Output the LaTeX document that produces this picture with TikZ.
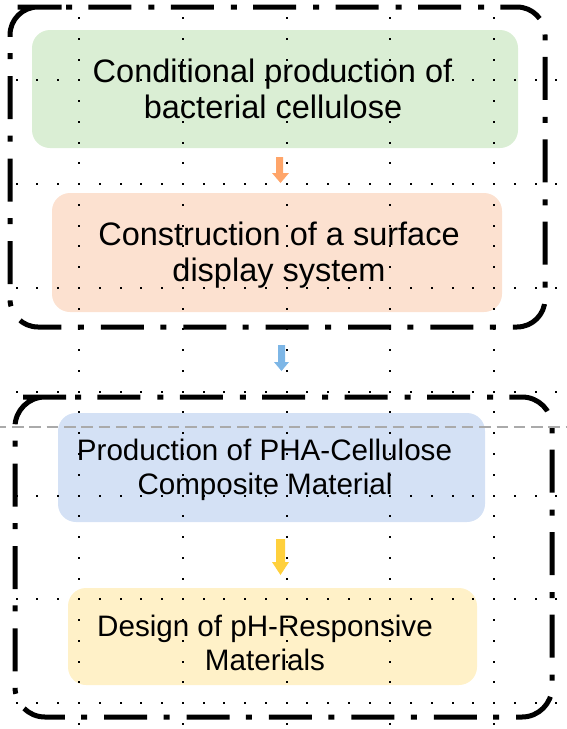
\documentclass[tikz,border=0pt]{standalone}
\usepackage{fontspec}
\setmainfont{Liberation Sans}
\definecolor{gfill}{RGB}{218,238,212}
\definecolor{ofill}{RGB}{252,225,208}
\definecolor{bfill}{RGB}{212,225,245}
\definecolor{yfill}{RGB}{255,241,200}
\definecolor{oarrow}{RGB}{255,165,105}
\definecolor{barrow}{RGB}{125,182,230}
\definecolor{yarrow}{RGB}{255,208,60}
\definecolor{gline}{RGB}{170,170,170}
\begin{document}
\begin{tikzpicture}[x=1pt,y=-1pt,
  box/.style={rounded corners=18pt, draw=none, inner sep=0pt},
  bigtxt/.style={font=\fontsize{32.5}{36}\selectfont, anchor=base, inner sep=0pt},
  smalltxt/.style={font=\fontsize{29.6}{34}\selectfont, anchor=base, inner sep=0pt},
  frame/.style={line width=5pt, rounded corners=28pt, dash pattern=on 6pt off 16.4pt on 43pt off 17pt},
  blockarrow/.style={draw=none},
  griddot/.style={fill=black}
]
\useasboundingbox (0,0) rectangle (567,729);
% coloured boxes
\node[box, fill=gfill, minimum width=486pt, minimum height=118pt] (g) at (275,89) {};
\node[box, fill=ofill, minimum width=450pt, minimum height=119pt] (o) at (277,252.5) {};
\node[box, fill=bfill, minimum width=427pt, minimum height=109pt] (b) at (271.5,467.5) {};
\node[box, fill=yfill, minimum width=409pt, minimum height=97pt] (y) at (272.5,636.5) {};
% texts
\node[bigtxt] (t1a) at (272.5,82) {Conditional production of};
\node[bigtxt] (t1b) at (273,118) {bacterial cellulose};
\node[bigtxt] (t2a) at (279,245) {Construction of a surface};
\node[bigtxt] (t2b) at (279,281) {display system};
\node[smalltxt] (t3a) at (264.5,460) {Production of PHA-Cellulose};
\node[smalltxt] (t3b) at (265,494) {Composite Material};
\node[smalltxt] (t4a) at (265,636) {Design of pH-Responsive};
\node[smalltxt] (t4b) at (265,670) {Materials};
% block arrows
\fill[oarrow, blockarrow] (276,157) -- (283,157) -- (283,173) -- (289,173) -- (280.5,183) -- (272,173) -- (276,173) -- cycle;
\fill[barrow, blockarrow] (278,345) -- (285,345) -- (285,362) -- (289,362) -- (281.5,371) -- (274,362) -- (278,362) -- cycle;
\fill[yarrow, blockarrow] (276,539) -- (285,539) -- (285,562) -- (289,562) -- (280.5,575) -- (272,562) -- (276,562) -- cycle;
% big dash-dot frames
\draw[frame] (38,7) -- (545,7) -- (545,327) -- (10,327) -- (10,7) -- cycle;
\draw[frame, rounded corners=30pt] (45,397) -- (552,397) -- (552,717) -- (15,717) -- (15,397) -- cycle;
% grey dashed line
\draw[gline, line width=2pt, dash pattern=on 11.5pt off 5.8pt, dash phase=5.2pt] (0,427) -- (567,427);
% dotted grid
\foreach \j in {0,...,6} {
  \foreach \k in {-3,...,23} {
    \fill[griddot] ({79+\k*20.76-1},{80.3+\j*103.8-1}) rectangle ++(2,2);
  }
}
\foreach \i in {0,...,4} {
  \foreach \k in {-3,...,31} {
    \fill[griddot] ({79+\i*103.8-1},{80.3+\k*20.76-1}) rectangle ++(2,2);
  }
}
\end{tikzpicture}
\end{document}
